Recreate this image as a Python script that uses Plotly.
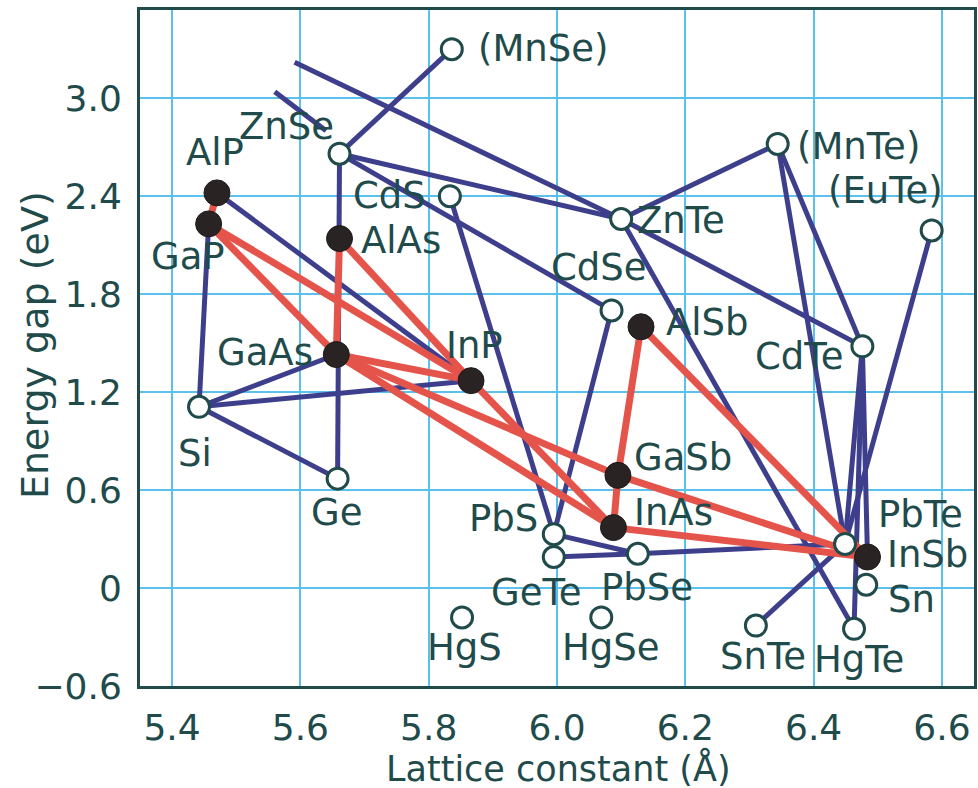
import plotly.graph_objects as go

# Semiconductor compounds: lattice constant (Å) and energy gap (eV)
compounds = ["(MnSe)", "ZnSe", "CdS", "ZnTe", "AlP", "GaP", "AlAs", "(MnTe)", "(EuTe)",
             "CdSe", "AlSb", "InP", "GaAs", "CdTe", "Si", "Ge", "GaSb", "InAs", "PbS",
             "GeTe", "PbSe", "HgS", "HgSe", "PbTe", "InSb", "Sn", "SnTe", "HgTe"]
lattice_const = [5.836, 5.661, 5.833, 6.100, 5.470, 5.457, 5.661, 6.344, 6.584,
                 6.085, 6.131, 5.866, 5.656, 6.476, 5.442, 5.658, 6.095, 6.088, 5.995,
                 5.995, 6.126, 5.852, 6.069, 6.449, 6.484, 6.482, 6.310, 6.463]
energy_gap = [3.30, 2.66, 2.40, 2.26, 2.42, 2.23, 2.14, 2.72, 2.19,
              1.70, 1.60, 1.27, 1.43, 1.48, 1.11, 0.67, 0.69, 0.37, 0.33,
              0.19, 0.21, -0.18, -0.18, 0.27, 0.19, 0.02, -0.23, -0.25]

# III-V compounds (drawn as filled circles)
iii_v = ["AlP", "GaP", "AlAs", "AlSb", "InP", "GaAs", "GaSb", "InAs", "InSb"]

# Alloy tie lines
blue_pairs = [("ZnSe", "(MnSe)"), ("ZnSe", "ZnTe"), ("ZnSe", "CdSe"), ("ZnSe", "Ge"),
              ("AlP", "InP"), ("GaP", "Si"), ("Si", "GaAs"), ("Si", "InP"), ("Si", "Ge"),
              ("CdS", "PbS"), ("CdSe", "PbS"), ("ZnTe", "(MnTe)"), ("ZnTe", "CdTe"),
              ("ZnTe", "HgTe"), ("(MnTe)", "CdTe"), ("(MnTe)", "PbTe"), ("(EuTe)", "PbTe"),
              ("CdTe", "HgTe"), ("CdTe", "PbTe"), ("CdTe", "InSb"), ("PbS", "PbSe"),
              ("GeTe", "PbSe"), ("PbSe", "PbTe"), ("SnTe", "PbTe")]
red_pairs = [("AlP", "GaP"), ("GaP", "GaAs"), ("GaP", "InP"), ("AlAs", "GaAs"),
             ("AlAs", "InP"), ("GaAs", "InP"), ("GaAs", "GaSb"), ("GaAs", "InAs"),
             ("InP", "InAs"), ("AlSb", "GaSb"), ("GaSb", "InAs"), ("AlSb", "InSb"),
             ("GaSb", "InSb"), ("InAs", "InSb")]

# Tie lines running in from compounds above the plotted range
partial_x0 = [5.591, 5.560]
partial_y0 = [3.22, 3.04]
partial_x1 = [6.100, 5.640]
partial_y1 = [2.26, 2.80]

x_ticks = [5.4, 5.6, 5.8, 6.0, 6.2, 6.4, 6.6]
y_ticks = [-0.6, 0, 0.6, 1.2, 1.8, 2.4, 3.0]
y_tick_text = ["\u22120.6", "0", "0.6", "1.2", "1.8", "2.4", "3.0"]

# Label placement: (xanchor, xshift px, yshift px)
label_pos = {
    "(MnSe)": ("left", 24, 1), "ZnSe": ("right", -4, 27), "CdS": ("right", -22, 1),
    "ZnTe": ("left", 14, -1), "AlP": ("center", -2, 40), "GaP": ("center", -21, -33),
    "AlAs": ("left", 19, -2), "(MnTe)": ("left", 17, -3), "(EuTe)": ("center", -46, 40),
    "CdSe": ("center", -13, 43), "AlSb": ("left", 23, 4), "InP": ("center", 3, 35),
    "GaAs": ("right", -21, 2), "CdTe": ("right", -17, -10), "Si": ("center", -4, -47),
    "Ge": ("center", -1, -34), "GaSb": ("left", 14, 18), "InAs": ("left", 19, 15),
    "PbS": ("right", -14, 16), "GeTe": ("center", -17, -35), "PbSe": ("center", 9, -34),
    "HgS": ("center", 2, -30), "HgSe": ("center", 10, -30), "PbTe": ("left", 31, 29),
    "InSb": ("left", 17, 3), "Sn": ("left", 20, -15), "SnTe": ("center", 7, -31),
    "HgTe": ("center", 5, -31),
}

TEXT = "#214b4b"
BLUE = "#3e3f8c"
RED = "#e5544b"
GRID = "#5bc0eb"
FONT = "DejaVu Sans"

pos = {n: (x, y) for n, x, y in zip(compounds, lattice_const, energy_gap)}


def segments(pairs):
    xs, ys = [], []
    for a, b in pairs:
        xs += [pos[a][0], pos[b][0], None]
        ys += [pos[a][1], pos[b][1], None]
    return xs, ys


fig = go.Figure()

bx, by = segments(blue_pairs)
for x0, y0, x1, y1 in zip(partial_x0, partial_y0, partial_x1, partial_y1):
    bx += [x0, x1, None]
    by += [y0, y1, None]
fig.add_trace(go.Scatter(x=bx, y=by, mode="lines",
                         line=dict(color=BLUE, width=5), hoverinfo="skip"))

rx, ry = segments(red_pairs)
fig.add_trace(go.Scatter(x=rx, y=ry, mode="lines",
                         line=dict(color=RED, width=7), hoverinfo="skip"))

open_names = [n for n in compounds if n not in iii_v]
fig.add_trace(go.Scatter(
    x=[pos[n][0] for n in open_names], y=[pos[n][1] for n in open_names],
    mode="markers",
    marker=dict(size=21, color="white", line=dict(color=TEXT, width=3)),
    hoverinfo="skip"))
fig.add_trace(go.Scatter(
    x=[pos[n][0] for n in iii_v], y=[pos[n][1] for n in iii_v],
    mode="markers",
    marker=dict(size=26, color="#2a2323", line=dict(color="#1e1a1a", width=1)),
    hoverinfo="skip"))

for n in compounds:
    xa, xs, ys = label_pos[n]
    fig.add_annotation(x=pos[n][0], y=pos[n][1], text=n, showarrow=False,
                       xanchor=xa, yanchor="middle", xshift=xs, yshift=ys,
                       font=dict(family=FONT, size=37, color=TEXT))

fig.add_annotation(x=0.502, y=-0.1215, xref="paper", yref="paper",
                   text="Lattice constant (Å)", showarrow=False,
                   xanchor="center", yanchor="middle",
                   font=dict(family=FONT, size=35, color=TEXT))
fig.add_annotation(x=-0.125, y=0.504, xref="paper", yref="paper",
                   text="Energy gap (eV)", showarrow=False, textangle=-90,
                   xanchor="center", yanchor="middle",
                   font=dict(family=FONT, size=38, color=TEXT))

fig.update_xaxes(range=[5.35, 6.65], tickvals=x_ticks,
                 ticktext=[f"{v:.1f}" for v in x_ticks],
                 showgrid=True, gridcolor=GRID, gridwidth=2,
                 showline=True, mirror=True, linecolor=TEXT, linewidth=3,
                 ticks="", ticklabelstandoff=8, zeroline=False,
                 tickfont=dict(family=FONT, size=36, color=TEXT))
fig.update_yaxes(range=[-0.6, 3.54], tickvals=y_ticks, ticktext=y_tick_text,
                 showgrid=True, gridcolor=GRID, gridwidth=2,
                 showline=True, mirror=True, linecolor=TEXT, linewidth=3,
                 ticks="", ticklabelstandoff=8, zeroline=False,
                 tickfont=dict(family=FONT, size=36, color=TEXT))

fig.update_layout(width=978, height=788, showlegend=False,
                  margin=dict(l=140, r=1, t=10, b=102),
                  paper_bgcolor="white", plot_bgcolor="white")

fig.write_html("out.html")
